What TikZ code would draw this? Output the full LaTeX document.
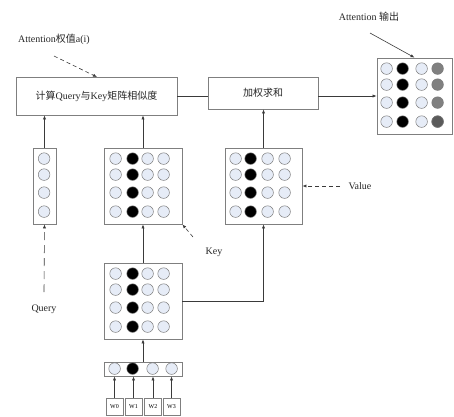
\documentclass[tikz,border=0pt]{standalone}
\usepackage{fontspec}
\setmainfont{Liberation Serif}
\newfontfamily\cjk{Noto Sans CJK SC}
\usetikzlibrary{arrows.meta}

\definecolor{boxgray}{HTML}{7F7F7F}
\definecolor{linegray}{HTML}{3A3A3A}
\definecolor{dotedge}{HTML}{7A7A7A}
\definecolor{dotlight}{HTML}{E6ECF7}
\definecolor{dotmid}{HTML}{808080}
\definecolor{dotdark}{HTML}{5A5A5A}

\tikzset{
  panel/.style={draw=boxgray, line width=0.8pt, fill=white, inner sep=0pt},
  dot/.style={circle, draw=dotedge, line width=0.5pt, minimum size=11.6pt, inner sep=0pt},
  conn/.style={draw=linegray, line width=0.6pt},
  arr/.style={conn, -{Latex[length=4pt,width=3.2pt]}},
  hint/.style={arr, dash pattern=on 4pt off 3pt},
  longhint/.style={arr, dash pattern=on 8pt off 5pt},
  lbl/.style={font=\fontsize{10}{12}\selectfont, inner sep=0pt, text=black!85},
  wlbl/.style={panel, minimum width=17pt, minimum height=17pt, font=\fontsize{6}{7}\selectfont},
}

% 4x4 grid of dots inside a panel; #2 is a list of x-offset/colour per column
\newcommand\dotmatrix[2]{%
  \begin{scope}[shift={(#1.north west)}]
    \foreach \dx/\col [count=\c] in {#2} {
      \foreach \dy [count=\r] in {11,27,45,64} {
        \node[dot, fill=\col] (#1-\r-\c) at (\dx,\dy) {};
      }
    }
  \end{scope}%
}

\begin{document}
\begin{tikzpicture}[x=1pt, y=-1pt]
  \useasboundingbox (0,0) rectangle (454,416);

  % processing boxes
  \node[panel, minimum width=161pt, minimum height=38pt, lbl] (qk) at (96.5,96)
    {{\cjk 计算}Query{\cjk 与}Key{\cjk 矩阵相似度}};
  \node[panel, minimum width=110pt, minimum height=32pt, lbl] (ws) at (263,93)
    {{\cjk 加权求和}};

  % matrices
  \node[panel, minimum width=75pt, minimum height=76pt] (out) at (414.5,96) {};
  \node[panel, minimum width=78pt, minimum height=76pt] (key) at (143,186) {};
  \node[panel, minimum width=77pt, minimum height=76pt] (val) at (263.5,186) {};
  \node[panel, minimum width=78pt, minimum height=76pt] (emb) at (143,301) {};
  \node[panel, minimum width=23pt, minimum height=76pt] (qry) at (44.5,186) {};
  \node[panel, minimum width=78pt, minimum height=14pt] (inp) at (143,369) {};

  \dotmatrix{key}{12/dotlight,29/black,44/dotlight,60/dotlight}
  \dotmatrix{val}{11/dotlight,26/black,43/dotlight,60/dotlight}
  \dotmatrix{emb}{12/dotlight,29/black,44/dotlight,60/dotlight}
  \dotmatrix{out}{10/dotlight,26/black,45/dotlight,61/dotmid}
  \node[dot, fill=dotdark] at (out-4-4) {};

  % query vector
  \begin{scope}[shift={(qry.north west)}]
    \foreach \dy [count=\r] in {11,27,45,64}
      \node[dot, fill=dotlight] (qry-\r) at (11.5,\dy) {};
  \end{scope}

  % input word vector
  \begin{scope}[shift={(inp.north west)}]
    \foreach \dx/\col [count=\c] in {11/dotlight,29/black,49/dotlight,68/dotlight}
      \node[dot, fill=\col] (inp-\c) at (\dx,7) {};
  \end{scope}

  % word inputs
  \foreach \x [count=\i from 0] in {114.5,133.5,153,171.5} {
    \node[wlbl] (w\i) at (\x,406.5) {W\i};
    \draw[arr] (w\i.north) -- (w\i.north |- inp.south);
  }

  % data flow
  \draw[arr] (inp.north) -- (emb.south);
  \draw[arr] (emb.north) -- (key.south);
  \draw[arr] (emb.east) -| (val.south);
  \draw[arr] (qry.north) -- (qry.north |- qk.south);
  \draw[arr] (key.north) -- (key.north |- qk.south);
  \draw[arr] (val.north) -- (val.north |- ws.south);
  \draw[conn] (qk.east) -- (qk.east -| ws.west);
  \draw[arr] (ws.east |- out.west) -- (out.west);

  % annotations
  \node[lbl] (attnlbl) at (54,39) {Attention{\cjk 权值}a(i)};
  \coordinate (attnTail) at (54,56);
  \coordinate (attnHead) at (97,77);
  \draw[hint] (attnTail) -- (attnHead);

  \node[lbl] (outlbl) at (369,17) {Attention {\cjk 输出}};
  \coordinate (outTail) at (370,33);
  \draw[arr] (outTail) -- (out.north);

  \node[lbl] (keylbl) at (214,252) {Key};
  \coordinate (keyTail) at (193,237);
  \draw[hint] (keyTail) -- (key.south east);

  \node[lbl] (vallbl) at (360,186) {Value};
  \coordinate (valTail) at (340,186);
  \draw[hint] (valTail) -- (val.east);

  \node[lbl] (qrylbl) at (44,309) {Query};
  \coordinate (qryTail) at (44,292);
  \draw[longhint] (qryTail) -- (qry.south);
\end{tikzpicture}
\end{document}
